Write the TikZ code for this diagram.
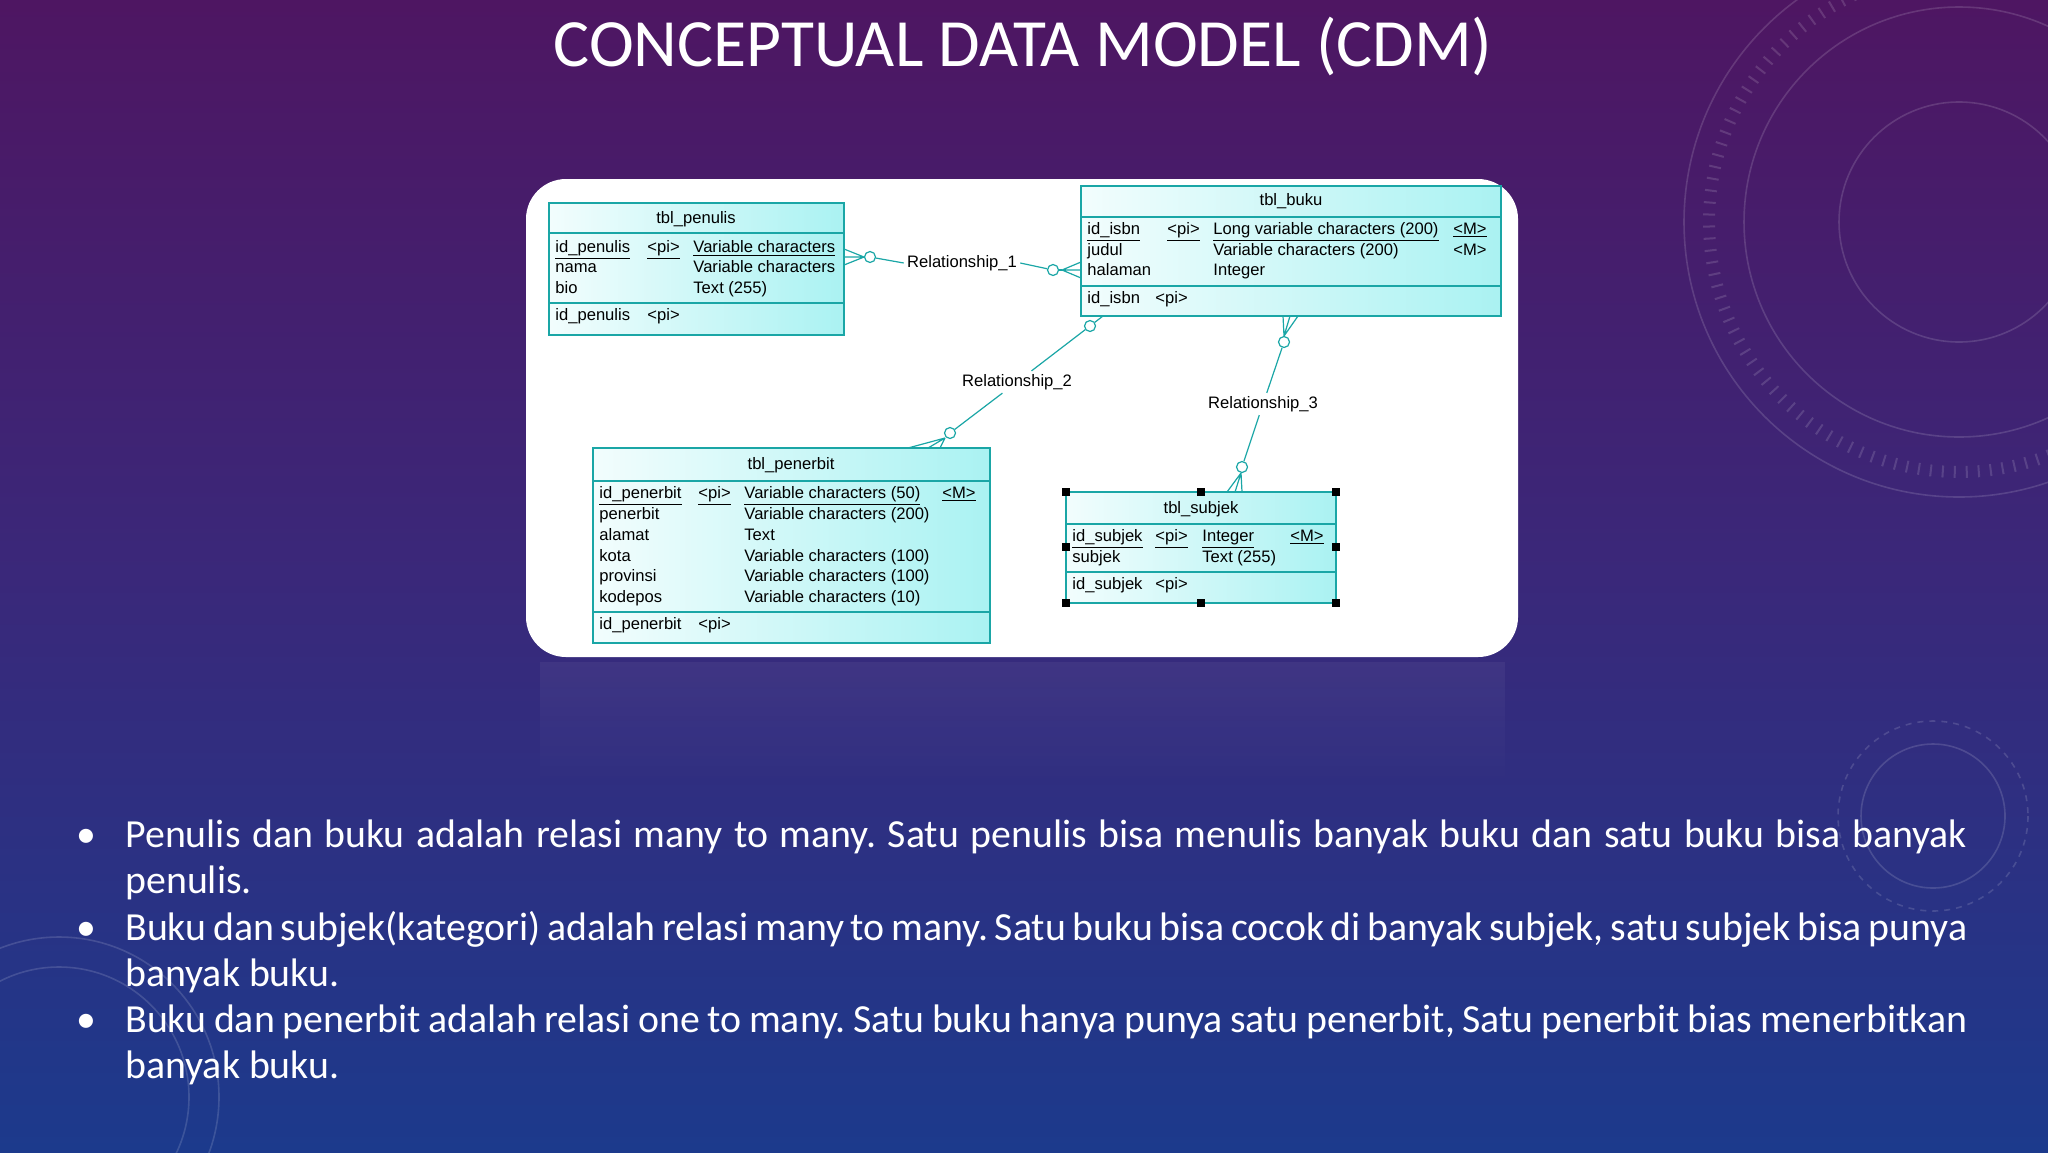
\documentclass[tikz,border=0pt]{standalone}
\usepackage{fontspec}
\setmainfont{Carlito}
\newfontfamily\tabfont{Liberation Sans}
\usetikzlibrary{fadings}
\definecolor{bgtop}{RGB}{78,22,98}
\definecolor{bgmid}{RGB}{58,40,122}
\definecolor{bgbot}{RGB}{28,58,140}
\definecolor{teal}{RGB}{26,166,166}
\definecolor{cyanr}{RGB}{170,242,242}
\newcommand\bulsetup{\frenchspacing\hyphenpenalty=10000 \exhyphenpenalty=10000 \relax}
\tikzset{
  tbl/.style={draw=teal, line width=0.9pt, left color=white!85!cyanr, right color=cyanr, anchor=north west, inner sep=0pt, outer sep=0pt},
  sep/.style={draw=teal, line width=0.9pt},
  cell/.style={font=\tabfont\fontsize{8.3}{9}\selectfont, anchor=base west, inner sep=0pt},
  ttl/.style={font=\tabfont\fontsize{8.3}{9}\selectfont, anchor=base, inner sep=0pt},
  rlab/.style={font=\tabfont\fontsize{8.3}{9}\selectfont, fill=white, inner sep=1.5pt},
  circ/.style={circle, draw=teal, line width=0.6pt, minimum size=5.5pt, inner sep=0pt, fill=white},
  rel/.style={draw=teal, line width=0.6pt},
  hdl/.style={fill=black, minimum size=4pt, inner sep=0pt},
  deco/.style={draw=white, opacity=0.14, line width=0.8pt},
  bul/.style={font=\fontsize{19.9}{23}\selectfont, text=white, anchor=base west, inner sep=0pt, text width=921pt, align=justify},
}
\begin{document}
\begin{tikzpicture}[x=0.5pt,y=-0.5pt]
\useasboundingbox (0,0) rectangle (2048,1152);
\shade[top color=bgtop, bottom color=bgbot, middle color=bgmid] (0,0) rectangle (2048,1152);
% decorations
\draw[deco] (1959,222) circle (275);
\draw[deco] (1959,222) circle (215);
\draw[deco] (1959,222) circle (120);
\draw[deco, dash pattern=on 1pt off 5pt, line width=6pt] (1959,222) circle (250);
\draw[deco] (1933,816) circle (72);
\draw[deco, dashed] (1933,816) circle (95);
\draw[deco] (59,1097) circle (130);
\draw[deco] (59,1097) circle (160);
% reflection
\fill[white, opacity=0.05, path fading=south] (540,662) rectangle (1505,790);
% panel
\fill[white, rounded corners=20pt] (526,179) rectangle (1518,657);
% title
\node[font=\fontsize{33.8}{38}\selectfont, text=white] (title) at (1023,46) {CONCEPTUAL DATA MODEL (CDM)};
% tbl_penulis
\node[tbl, minimum width=147.5pt, minimum height=66pt] (pen) at (549,203) {};
\draw[sep] (549,233) -- (844,233); \draw[sep] (549,303) -- (844,303);
\node[ttl] (penT) at (696,223) {tbl\_penulis};
\node[cell] (p1a) at (555,252) {\underline{id\_penulis}};
\node[cell] (p1b) at (647,252) {\underline{<pi>}};
\node[cell] (p1c) at (693,252) {\underline{Variable characters}};
\node[cell] (p2a) at (555,272) {nama}; \node[cell] (p2c) at (693,272) {Variable characters};
\node[cell] (p3a) at (555,293) {bio}; \node[cell] (p3c) at (693,293) {Text (255)};
\node[cell] (p4a) at (555,320) {id\_penulis}; \node[cell] (p4b) at (647,320) {<pi>};
% tbl_buku
\node[tbl, minimum width=210pt, minimum height=65pt] (buk) at (1081,186) {};
\draw[sep] (1081,217) -- (1501,217); \draw[sep] (1081,286) -- (1501,286);
\node[ttl] (bukT) at (1291,205) {tbl\_buku};
\node[cell] (b1a) at (1087,234) {\underline{id\_isbn}};
\node[cell] (b1b) at (1167,234) {\underline{<pi>}};
\node[cell] (b1c) at (1213,234) {\underline{Long variable characters (200)}};
\node[cell] (b1d) at (1453,234) {\underline{<M>}};
\node[cell] (b2a) at (1087,255) {judul}; \node[cell] (b2c) at (1213,255) {Variable characters (200)}; \node[cell] (b2d) at (1453,255) {<M>};
\node[cell] (b3a) at (1087,275) {halaman}; \node[cell] (b3c) at (1213,275) {Integer};
\node[cell] (b4a) at (1087,303) {id\_isbn}; \node[cell] (b4b) at (1155,303) {<pi>};
% tbl_penerbit
\node[tbl, minimum width=198.5pt, minimum height=97.5pt] (pnb) at (593,448) {};
\draw[sep] (593,481) -- (990,481); \draw[sep] (593,612) -- (990,612);
\node[ttl] (pnbT) at (791,469) {tbl\_penerbit};
\node[cell] (n1a) at (599,498) {\underline{id\_penerbit}};
\node[cell] (n1b) at (698,498) {\underline{<pi>}};
\node[cell] (n1c) at (744,498) {\underline{Variable characters (50)}};
\node[cell] (n1d) at (942,498) {\underline{<M>}};
\node[cell] (n2a) at (599,519) {penerbit}; \node[cell] (n2c) at (744,519) {Variable characters (200)};
\node[cell] (n3a) at (599,540) {alamat}; \node[cell] (n3c) at (744,540) {Text};
\node[cell] (n4a) at (599,561) {kota}; \node[cell] (n4c) at (744,561) {Variable characters (100)};
\node[cell] (n5a) at (599,581) {provinsi}; \node[cell] (n5c) at (744,581) {Variable characters (100)};
\node[cell] (n6a) at (599,602) {kodepos}; \node[cell] (n6c) at (744,602) {Variable characters (10)};
\node[cell] (n7a) at (599,629) {id\_penerbit}; \node[cell] (n7b) at (698,629) {<pi>};
% tbl_subjek
\node[tbl, minimum width=135pt, minimum height=55.5pt] (sbj) at (1066,492) {};
\draw[sep] (1066,524) -- (1336,524); \draw[sep] (1066,572) -- (1336,572);
\node[ttl] (sbjT) at (1201,513) {tbl\_subjek};
\node[cell] (s1a) at (1072,541) {\underline{id\_subjek}};
\node[cell] (s1b) at (1155,541) {\underline{<pi>}};
\node[cell] (s1c) at (1202,541) {\underline{Integer}};
\node[cell] (s1d) at (1290,541) {\underline{<M>}};
\node[cell] (s2a) at (1072,562) {subjek}; \node[cell] (s2c) at (1202,562) {Text (255)};
\node[cell] (s3a) at (1072,589) {id\_subjek}; \node[cell] (s3b) at (1155,589) {<pi>};
\foreach \i/\x/\y in {1/1066/492,2/1201/492,3/1336/492,4/1066/547,5/1336/547,6/1066/603,7/1201/603,8/1336/603}
  \node[hdl] (h\i) at (\x,\y) {};
% Relationship_1
\node[circ] (c1a) at (870,257) {};
\node[rlab] (r1) at (962,263) {Relationship\_1};
\node[circ] (c1b) at (1053,270) {};
\coordinate (f1a) at (864,257);
\coordinate (f1b) at (1062,270);
\draw[rel] (f1a) -- (844,249) (f1a) -- (844,257) (f1a) -- (844,265);
\draw[rel] (c1a) -- (r1.west); \draw[rel] (r1.east) -- (c1b); \draw[rel] (c1b) -- (f1b);
\draw[rel] (f1b) -- (1081,262) (f1b) -- (1081,270) (f1b) -- (1081,278);
% Relationship_2
\coordinate (e2a) at (1103,316);
\node[circ] (c2a) at (1090,326) {};
\node[rlab] (r2) at (1017,382) {Relationship\_2};
\node[circ] (c2b) at (950,433) {};
\coordinate (f2) at (945,438);
\draw[rel] (e2a) -- (c2a); \draw[rel] (c2a) -- (r2); \draw[rel] (r2) -- (c2b);
\draw[rel] (f2) -- (908,448) (f2) -- (928,448) (f2) -- (940,448);
% Relationship_3
\coordinate (f3a) at (1284,336);
\node[circ] (c3a) at (1284,342) {};
\node[rlab] (r3) at (1263,404) {Relationship\_3};
\node[circ] (c3b) at (1242,467) {};
\coordinate (f3b) at (1241,473);
\draw[rel] (f3a) -- (1283,316) (f3a) -- (1290,316) (f3a) -- (1298,316);
\draw[rel] (c3a) -- (r3); \draw[rel] (r3) -- (c3b);
\draw[rel] (f3b) -- (1227,492) (f3b) -- (1235,492) (f3b) -- (1242,492);
% bullets
\foreach \i/\y in {1/847,2/940,3/1032} \node[font=\fontsize{19.9}{23}\selectfont, text=white, anchor=base west, inner sep=0pt] (d\i) at (76,\y) {•};
\node[bul] (t1) at (125,847) {\bulsetup Penulis dan buku adalah relasi many to many. Satu penulis bisa menulis banyak buku dan satu buku bisa banyak penulis.};
\node[bul] (t2) at (125,940) {\bulsetup Buku dan subjek(kategori) adalah relasi many to many. Satu buku bisa cocok di banyak subjek, satu subjek bisa punya banyak buku.};
\node[bul] (t3) at (125,1032) {\bulsetup Buku dan penerbit adalah relasi one to many. Satu buku hanya punya satu penerbit, Satu penerbit bias menerbitkan banyak buku.};
\end{tikzpicture}
\end{document}
